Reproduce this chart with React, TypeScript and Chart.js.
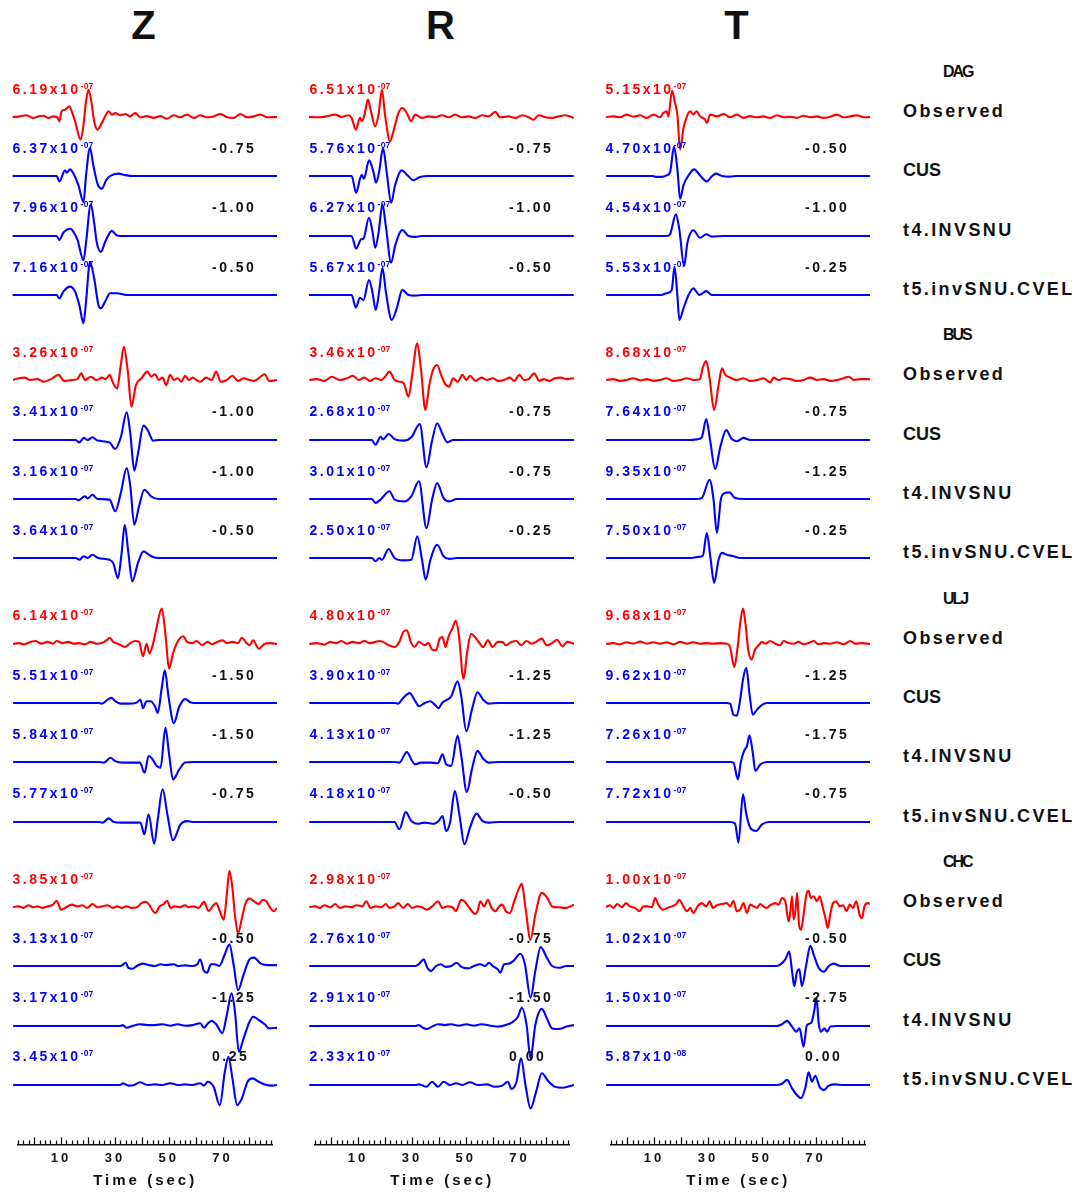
import React, { useEffect, useRef } from 'react';
import { Chart, registerables } from 'chart.js';

Chart.register(...registerables);

// ---------- layout / text data ----------
const COMPONENTS = ['Z', 'R', 'T'];
const STATIONS = ['DAG', 'BUS', 'ULJ', 'CHC'];
const MODELS = ['Observed', 'CUS', 't4.INVSNU', 't5.invSNU.CVEL'];
const AXIS_LABELS = [10, 30, 50, 70];
const AXIS_TITLE = 'Time (sec)';
const T_MIN = -6;
const T_MAX = 88.5;
const TICK_STEP = 2;

// peak amplitudes (Observed, CUS, t4, t5) for each component Z, R, T
const DAG_PEAKS = [[6.19e-7, 6.37e-7, 7.96e-7, 7.16e-7], [6.51e-7, 5.76e-7, 6.27e-7, 5.67e-7], [5.15e-7, 4.70e-7, 4.54e-7, 5.53e-7]];
const BUS_PEAKS = [[3.26e-7, 3.41e-7, 3.16e-7, 3.64e-7], [3.46e-7, 2.68e-7, 3.01e-7, 2.50e-7], [8.68e-7, 7.64e-7, 9.35e-7, 7.50e-7]];
const ULJ_PEAKS = [[6.14e-7, 5.51e-7, 5.84e-7, 5.77e-7], [4.80e-7, 3.90e-7, 4.13e-7, 4.18e-7], [9.68e-7, 9.62e-7, 7.26e-7, 7.72e-7]];
const CHC_PEAKS = [[3.85e-7, 3.13e-7, 3.17e-7, 3.45e-7], [2.98e-7, 2.76e-7, 2.91e-7, 2.33e-7], [1.00e-7, 1.02e-7, 1.50e-7, 5.87e-8]];

// time shifts (CUS, t4, t5) for each component Z, R, T
const DAG_SHIFTS = [[-0.75, -1.0, -0.5], [-0.75, -1.0, -0.5], [-0.5, -1.0, -0.25]];
const BUS_SHIFTS = [[-1.0, -1.0, -0.5], [-0.75, -0.75, -0.25], [-0.75, -1.25, -0.25]];
const ULJ_SHIFTS = [[-1.5, -1.5, -0.75], [-1.25, -1.25, -0.5], [-1.25, -1.75, -0.75]];
const CHC_SHIFTS = [[-0.5, -1.25, 0.25], [-0.75, -1.5, 0.0], [-0.5, -2.75, 0.0]];

// ---------- waveforms: [time (s), normalized amplitude] ----------
const DAG_Z_OBS = [[-5.8,0],[-3.1,.02],[-0.8,.06],[1.6,-.03],[3.4,.02],[5.2,.04],[7,-.03],[8.8,.02],[10,0],[10.9,-.14],[11.7,.19],[12.9,.24],[14.5,.36],[15.3,.19],[16.5,-.14],[18.5,-.76],[19.5,-.26],[20.4,.52],[21.3,.91],[22.1,.63],[23.3,-.14],[24.5,-.42],[25.7,-.26],[27.2,.02],[28.4,.19],[29.6,.08],[30.8,.13],[32.6,.06],[34.4,.1],[36.1,.02],[37.9,.13],[39.7,-.01],[42.1,.03],[44.5,-.03],[46.9,.03],[49.2,-.06],[51.6,.06],[54,-.01],[56.4,.08],[58.8,-.03],[61.1,.06],[63.5,-.01],[65.9,.02],[68.3,.1],[70.7,-.01],[73,-.03],[75.4,.1],[77.8,-.01],[80.2,.02],[82.6,.08],[85,-.01],[88.5,0]];
const DAG_Z_CUS = [[-5.8,0],[9.9,0],[10.9,-.18],[12.9,.19],[13.5,.11],[14.7,.22],[15.9,.08],[17.7,-.31],[19.5,-.87],[20.4,.02],[21.8,.93],[23,.36],[24.5,-.26],[26,-.42],[27.6,-.14],[29,0],[32,.08],[34.4,.03],[37.3,0],[88.5,0]];
const DAG_Z_T4 = [[-5.8,0],[9.9,0],[10.9,-.13],[12.3,.11],[14.9,.24],[16.1,.11],[17.3,-.11],[19.5,-.81],[20.4,-.22],[22.1,1.06],[23.3,.44],[24.2,-.2],[25.7,-.53],[27.2,-.2],[29.6,.17],[31.4,.02],[33.8,0],[88.5,0]];
const DAG_Z_T5 = [[-5.8,0],[9.9,0],[10.9,-.11],[12.3,.11],[14.7,.28],[16.5,.11],[18,-.33],[19.5,-.94],[20.4,-.22],[21.8,1.1],[23.3,.56],[24.8,-.33],[25.7,-.44],[27.2,-.22],[29,.06],[31.4,.06],[34.9,0],[88.5,0]];

const DAG_R_OBS = [[-6,0],[-2.7,-.01],[.3,.02],[3.3,.08],[5.7,0],[8,.06],[9.2,-.03],[10.7,-.42],[12.2,-.03],[12.8,-.14],[13.8,.08],[15,.58],[16.1,.19],[17.6,-.31],[18.8,.08],[20,.91],[21.1,.08],[22.9,-.81],[24.1,-.48],[25.9,.13],[27.3,.3],[28.9,.13],[30.4,-.14],[31.9,.08],[34.2,-.03],[36.6,.02],[39,-.01],[41.4,.06],[43.8,-.01],[46.1,.08],[48.5,-.01],[50.9,.02],[53.3,-.03],[55.7,.06],[58,.02],[60.4,.17],[62.2,-.01],[65.2,.02],[67.6,-.03],[70,.06],[72.3,-.01],[74.1,-.09],[75.9,.06],[78.3,-.01],[80.7,-.03],[83,.02],[85.4,.06],[88.4,-.03]];
const DAG_R_CUS = [[-6,0],[9.2,0],[10.8,-.56],[12.2,-.09],[12.8,.04],[13.6,-.09],[15.4,.52],[17,.13],[17.9,-.22],[19,.13],[20.4,.93],[21.7,.13],[23.3,-.89],[24.7,-.31],[27.1,.19],[28.9,.04],[31.3,-.14],[33.6,-.03],[36.6,0],[88.4,0]];
const DAG_R_T4 = [[-6,0],[9.2,0],[10.8,-.42],[12.6,-.11],[13.4,-.09],[15.4,.61],[16.6,.17],[17.6,-.39],[18.8,.11],[20.2,1.06],[21.4,.33],[23.3,-.89],[24.7,-.33],[27.3,.2],[29.5,0],[31.9,-.03],[34.2,0],[88.4,0]];
const DAG_R_T5 = [[-6,0],[9.2,0],[10.7,-.42],[12.2,-.09],[13.4,-.17],[15.4,.5],[16.6,.11],[17.8,-.5],[19,.11],[20.2,.91],[21.4,.11],[23.5,-.83],[25.3,-.44],[27.3,.17],[29.5,0],[31.9,-.02],[34.5,0],[88.4,0]];

const DAG_T_OBS = [[-5.6,0],[-3,.02],[-.6,-.01],[1.7,.08],[4.1,.01],[6.5,.06],[8.9,-.03],[11.3,.08],[13.6,-.01],[14.8,.13],[16,.19],[16.6,.02],[17.9,.87],[18.9,.5],[19.8,.08],[20.8,-1.09],[22,-.37],[23.2,.02],[24.4,.19],[25.5,.08],[26.7,.19],[27.9,.02],[29.7,-.09],[30.3,-.2],[31.5,.08],[33.9,.02],[36.3,.1],[38.6,-.01],[41,.08],[43.4,-.03],[45.8,.03],[48.2,-.01],[50.5,.02],[52.9,-.03],[55.3,.06],[57.7,-.01],[60.1,.01],[62.4,-.03],[64.8,.04],[67.2,-.01],[69.6,.02],[72,-.03],[74.3,.01],[76.7,.08],[79.1,-.01],[81.5,.02],[83.9,.06],[86.3,-.01],[88.5,0]];
const DAG_T_CUS = [[-5.6,0],[11,0],[12.4,-.03],[14.2,-.03],[16,.02],[17.2,.13],[18.6,.97],[19.8,.24],[20.8,-.76],[22,-.3],[23.8,.02],[25.8,.22],[27.9,.02],[30.3,-.18],[32.1,-.01],[33.6,.08],[35.7,0],[38.6,-.02],[41,0],[88.5,0]];
const DAG_T_T4 = [[-5.6,0],[16,0],[17.2,.06],[19.3,.72],[20.5,.22],[22.2,-1],[23.4,-.22],[25.5,.19],[27.9,-.06],[30.1,.06],[32.1,-.02],[36.3,0],[88.5,0]];
const DAG_T_T5 = [[-5.6,0],[14,0],[16,.06],[17.8,.17],[18.8,.94],[19.8,0],[20.5,-.83],[22,-.44],[23.8,0],[25.5,.22],[27.7,0],[30.1,.13],[32.1,0],[88.5,0]];

const BUS_Z_OBS = [[-5.6,0],[-3.6,.06],[-1.5,.08],[.5,0],[3.2,.03],[5.2,-.06],[7.9,.03],[10.6,.17],[12.6,-.03],[15.3,0],[17.3,.03],[18.7,.22],[20,0],[22.1,.11],[24.1,0],[26.1,.08],[27.4,.03],[28.8,.17],[30.1,-.11],[31.5,-.28],[32.8,.5],[33.9,1.11],[35.3,.28],[36.6,-.89],[38.2,-.17],[40.2,.06],[42.3,.28],[43.6,.11],[45,.19],[46.3,0],[47.7,.08],[49,-.17],[50.4,.17],[51.7,0],[53.1,.06],[54.4,-.06],[55.7,.14],[57.1,0],[58.4,.08],[59.8,0],[61.1,-.06],[63.2,.08],[65.2,0],[66.8,.28],[68.5,-.06],[70.6,0],[72.6,.14],[74.6,-.03],[76.6,.06],[78.7,0],[80.3,-.03],[82,.06],[84.1,.19],[85.7,-.03],[88.5,0]];
const BUS_Z_CUS = [[-5.6,0],[16.7,0],[18,-.08],[19.6,.07],[21,0],[22.7,.09],[24.5,-.02],[28.8,-.08],[30.8,-.3],[32.8,.09],[34.9,.92],[36.2,.2],[37.6,-1.02],[38.9,-.47],[40.9,.48],[42.5,.31],[44.3,-.02],[46.3,0],[88.5,0]];
const BUS_Z_T4 = [[-5.6,0],[16.7,0],[17.7,-.04],[20,.09],[21,.02],[22.7,.14],[24.5,0],[28.8,-.02],[30.8,-.41],[32.8,.2],[34.9,1.03],[36.2,.42],[37.6,-.86],[39.3,-.24],[41.2,.31],[43.6,.09],[46.3,0],[88.5,0]];
const BUS_Z_T5 = [[-5.6,0],[16.7,0],[18,-.06],[19.6,.06],[21,0],[22.7,.11],[24.7,0],[28.8,-.06],[30.1,-.17],[31.8,-.67],[33.1,.17],[34.2,1.1],[35.5,.17],[36.9,-.78],[38.9,-.17],[40.9,.22],[43.6,.06],[46.3,0],[88.5,0]];

const BUS_R_OBS = [[-5.9,0],[-3.2,.03],[-.5,-.03],[2.2,.11],[4.9,0],[7.6,.06],[9.6,.14],[11.7,0],[13.7,.08],[15.7,-.03],[17.7,.06],[19.8,0],[21.1,.11],[22.7,.28],[24.5,0],[26.5,-.06],[27.8,-.11],[29.5,-.56],[30.8,.17],[32.6,1.22],[33.9,.39],[35.5,-1],[36.9,-.17],[38.2,.33],[39.7,.5],[41.1,.17],[42.4,-.11],[44,-.22],[45.4,.06],[47,-.06],[48.7,.17],[50.1,0],[51.4,.14],[53.4,-.03],[55.5,.08],[57.5,0],[59.5,.06],[61.5,-.03],[63.6,0],[65.6,.08],[67.2,-.03],[69,.17],[70.7,0],[72.3,.03],[74.3,.22],[76.1,-.03],[77.7,.03],[79.7,-.03],[81.7,.06],[83.8,.08],[85.8,.03],[88.5,.06]];
const BUS_R_CUS = [[-5.9,0],[16.4,0],[17.7,-.16],[19.5,.11],[20.4,.02],[22.4,.2],[24.5,.03],[27.8,-.02],[30.5,.09],[33.5,.53],[35.9,-.91],[37.9,-.02],[39.7,.56],[41.6,.2],[43.3,-.08],[45.4,0],[88.5,0]];
const BUS_R_T4 = [[-5.9,0],[16.4,0],[17.7,-.13],[19.5,-.02],[22.7,.26],[24.5,-.02],[27.8,-.08],[30.5,.09],[33.2,.59],[35.9,-.97],[37.9,-.02],[39.7,.53],[42,.03],[44,-.08],[46.7,0],[88.5,0]];
const BUS_R_T5 = [[-5.9,0],[16.4,0],[17.7,-.11],[19.1,0],[20,-.06],[22.4,.3],[24.5,0],[27.8,-.08],[30.5,-.06],[32.6,.72],[34.3,-.06],[35.6,-.72],[37.3,-.06],[39.7,.44],[42,.06],[44,-.03],[46.7,0],[88.5,0]];

const BUS_T_OBS = [[-5.6,0],[-3,.03],[-.6,-.03],[1.7,0],[4.1,.06],[6.5,-.01],[8.9,.03],[11.3,-.03],[13.6,0],[16,.06],[18.4,-.03],[20.8,0],[23.2,.06],[25.5,0],[27.9,.03],[28.8,.39],[30.1,.63],[31.3,.06],[32.9,-1],[34.5,-.17],[35.7,.39],[36.9,.17],[38.6,.08],[41,0],[43.4,.06],[45.8,-.03],[48.2,0],[50.5,.06],[52.9,-.08],[54.1,.08],[55.9,0],[57.7,.06],[60.1,.03],[62.4,-.03],[64.8,0],[67.2,.08],[69.6,0],[72,.03],[74.3,-.03],[76.7,0],[79.1,.06],[80.9,.11],[82.7,0],[85.1,.03],[88.5,.03]];
const BUS_T_CUS = [[-5.6,0],[24.4,0],[26.7,.02],[28.5,.09],[30.1,.7],[31.5,-.02],[33.3,-.97],[35.1,-.24],[37.2,.33],[39.2,.03],[41,-.04],[43.4,.07],[45.8,0],[88.5,0]];
const BUS_T_T4 = [[-5.6,0],[26.7,0],[28.5,.03],[31.3,.64],[32.7,-.02],[33.9,-1.13],[35.3,-.02],[36.3,.18],[38.4,.22],[40.4,.03],[43.4,0],[88.5,0]];
const BUS_T_T5 = [[-5.6,0],[25,0],[26.7,.03],[28.9,.08],[30.3,.83],[31.7,-.06],[32.9,-.83],[34.5,-.06],[35.7,.17],[37.4,.11],[39.8,.06],[42.2,0],[88.5,0]];

const ULJ_Z_OBS = [[-5.6,0],[-3.6,.03],[-1.5,-.01],[.5,.07],[2.5,.1],[4.5,.01],[6.6,.07],[8.6,.01],[9.9,.1],[12,.03],[14,.07],[16,.01],[18,.03],[20,-.01],[22.1,.07],[24.1,.01],[26.1,.03],[27.7,.12],[28.8,.21],[30.1,.07],[32.2,-.01],[34.2,-.1],[36.2,.03],[38,.1],[39.3,.07],[40.7,-.41],[42,.01],[43,-.32],[44.3,.01],[45.6,.57],[47.4,1.18],[48.7,.34],[50,-.82],[51.4,-.32],[53,.07],[55.1,.26],[56.4,.07],[58.4,.03],[59.8,.1],[61.8,-.04],[63.8,.07],[65.2,-.01],[67.2,.07],[69.2,.12],[70.6,.03],[72.6,.07],[74.6,.03],[76,.21],[77.3,.07],[78.7,-.04],[80,.12],[82,-.16],[84.1,.01],[86.1,.03],[88.5,0]];
const ULJ_Z_CUS = [[-5.6,0],[24.7,0],[26.1,-.02],[28.1,.11],[29.5,.17],[30.8,.06],[32.8,-.02],[35.5,-.02],[38.2,0],[39.8,.11],[40.7,-.17],[42,.06],[43.4,.06],[45,-.11],[46,-.33],[47.4,.5],[48.5,1.09],[49.8,.22],[51.7,-.67],[53.7,-.11],[55.7,.13],[57.8,.02],[59.8,0],[88.5,0]];
const ULJ_Z_T4 = [[-5.6,0],[24.7,0],[26.8,-.02],[29.1,.14],[30.8,.03],[33.5,-.02],[39.6,-.02],[41.3,-.36],[42.7,.2],[44,.11],[45.6,-.13],[47,-.19],[48.7,1.14],[50.1,.2],[51.4,-.58],[53.7,-.24],[55.7,-.02],[58.4,0],[88.5,0]];
const ULJ_Z_T5 = [[-5.6,0],[24.7,0],[26.4,-.02],[28.5,.12],[30.1,.01],[32.8,-.02],[39.8,-.02],[41.2,-.41],[42.7,.26],[44.7,-.72],[46,.1],[47.7,1.09],[49.5,.2],[51.4,-.61],[54.1,-.08],[56.4,.03],[58.4,0],[88.5,0]];

const ULJ_R_OBS = [[-5.9,0],[-3.2,.03],[-.5,-.02],[1.6,.07],[3.6,.03],[5.6,.1],[7.6,.01],[9.6,.07],[11.7,.03],[13.7,.1],[15.7,.03],[17.7,.07],[19.1,.1],[20.4,.07],[22.4,-.04],[24.5,-.1],[26.2,.07],[27.6,.4],[28.9,.46],[30.3,.07],[31.6,-.1],[33.2,.07],[35.3,-.04],[36.6,.03],[37.9,-.19],[39.3,-.21],[40.6,.18],[41.6,.23],[42.7,-.1],[43.7,.23],[45.1,.51],[46.3,.77],[47.4,.34],[49.1,-1.16],[50.5,-.21],[51.8,.34],[53.2,.23],[54.5,.07],[56.1,-.1],[57.8,.12],[59.5,-.1],[61.3,.07],[62.9,.07],[64.2,-.04],[66.2,.07],[68,.1],[69.6,-.04],[71.6,.1],[73.4,.01],[75,.07],[77,.18],[78.8,-.04],[80.7,.03],[82.4,.14],[84.4,-.08],[86.1,.07],[88.5,.01]];
const ULJ_R_CUS = [[-5.9,0],[24.5,0],[25.8,-.02],[27.6,.17],[29.9,.33],[31.9,.06],[33.2,-.11],[35.3,0],[37.3,.06],[38.9,-.06],[40.2,-.17],[41.6,.02],[43.3,.11],[44.7,.22],[47,.72],[48.3,.22],[50.1,-.94],[52.1,-.22],[54.1,.36],[56.1,.11],[58.2,-.02],[61.5,0],[88.5,0]];
const ULJ_R_T4 = [[-5.9,0],[24.5,0],[26.2,-.02],[28.9,.33],[30.8,.03],[31.9,-.08],[33.9,-.02],[37.3,-.02],[40,-.04],[41.6,.26],[42.9,-.08],[44.7,-.13],[47,.87],[48.3,.2],[50.3,-1],[52.1,-.24],[54.1,.37],[56.1,.11],[58.2,-.02],[61.5,0],[88.5,0]];
const ULJ_R_T5 = [[-5.9,0],[24.5,0],[26.2,-.24],[28.5,.33],[30.5,.03],[32.6,-.06],[35.3,-.02],[38.6,-.06],[40.2,.03],[41.6,.2],[42.9,-.3],[44.3,-.02],[46,1.03],[47.8,.14],[49.4,-.74],[51.4,-.19],[53.7,.28],[55.9,.03],[58.2,-.02],[61.5,0],[88.5,0]];

const ULJ_T_OBS = [[-5.6,0],[-3,.03],[-.6,-.01],[1.7,.06],[4.1,.01],[6.5,.08],[8.9,.01],[11.3,.06],[13.6,.01],[16,.06],[18.4,-.01],[20.8,.07],[23.2,.01],[25.5,.06],[27.9,.01],[30.3,.03],[32.7,.01],[35.1,.03],[37.4,.01],[38.6,-.1],[40.1,-.77],[41.3,-.1],[42.2,.68],[43.2,1.18],[44.1,.68],[45.1,-.21],[46.3,-.52],[47.4,-.21],[48.8,-.04],[50,.07],[51.1,.01],[52.9,.1],[54.7,.01],[56.5,-.04],[57.7,.1],[59.5,.03],[61.3,.01],[63,.07],[64.8,-.01],[66.6,.03],[68.4,.1],[70.2,-.01],[72,.03],[74.3,.01],[76.7,.06],[79.1,-.01],[81.5,.1],[83.3,.01],[85.7,.03],[88.5,0]];
const ULJ_T_CUS = [[-5.6,0],[37.4,0],[38.6,-.02],[39.8,-.39],[41,-.42],[42.2,.11],[43.2,.78],[44.4,1.17],[45.5,.33],[46.7,-.39],[48.2,-.22],[50,-.06],[51.7,0],[88.5,0]];
const ULJ_T_T4 = [[-5.6,0],[38.6,0],[39.8,-.02],[41.4,-.58],[42.4,-.02],[43.6,.37],[44.6,.53],[45.5,.89],[46.7,.31],[47.6,-.3],[49.4,-.08],[51.7,0],[88.5,0]];
const ULJ_T_T5 = [[-5.6,0],[38.6,0],[40.4,-.06],[41.6,-.69],[43.2,.92],[44.4,.26],[45.8,-.19],[47.9,-.3],[50,-.08],[52.3,0],[88.5,0]];

const CHC_Z_OBS = [[-5.6,0],[-3.6,.02],[-1.9,-.03],[-.2,.06],[1.6,-.01],[3.2,.02],[4.8,-.03],[6.6,.02],[8.6,.08],[9.9,.21],[11.5,-.09],[13.3,-.01],[15.3,.08],[17.3,.02],[19.1,.06],[20.7,-.03],[22.7,.1],[24.5,-.01],[26.1,.02],[28.1,.06],[29.9,-.03],[31.5,.02],[33.1,-.03],[34.9,.02],[36.6,-.03],[38.5,-.01],[40.2,.13],[41.6,.17],[42.9,.08],[44.3,-.14],[45.2,-.2],[46.6,.02],[47.9,.08],[49.3,.21],[50.6,-.03],[52,.02],[53.7,-.01],[55.7,.06],[57.1,-.01],[58.7,.02],[60.5,-.03],[62.5,.17],[64.1,-.14],[65.5,.02],[66.8,.13],[68.1,-.14],[69.5,-.42],[70.6,.41],[71.5,1.21],[72.6,.63],[73.5,-.26],[74.6,-.87],[76,-.37],[77.3,.13],[78.7,.28],[80.3,.19],[82,.1],[83.4,.24],[84.7,.19],[86.1,-.03],[87.4,-.14],[88.5,-.03]];
const CHC_Z_CUS = [[-5.6,0],[32.8,0],[34.6,.11],[35.5,-.06],[36.9,-.09],[38.5,0],[40.6,.08],[42.9,.03],[45,0],[47,.06],[49,.03],[51.7,.06],[53.1,0],[55.7,.02],[58.4,0],[60.1,.06],[61.1,.22],[62.5,-.17],[63.6,-.22],[64.9,.06],[66.3,.06],[67.9,0],[69.9,.39],[71.5,.72],[73,.06],[74.6,-.81],[76.6,-.28],[78.7,.22],[80.3,.28],[82.7,.08],[85.4,.03],[88.5,.03]];
const CHC_Z_T4 = [[-5.6,0],[32.6,0],[33.5,.03],[34.9,-.06],[36.9,0],[39.6,.06],[42.3,.03],[45,.03],[47.7,.06],[50.4,.01],[53.1,.06],[55.7,.01],[58.4,.03],[61.1,.09],[62.5,-.06],[63.6,.06],[65.2,.17],[66.8,.06],[69,-.24],[70.6,.37],[72.3,1.09],[73.5,.48],[74.9,-.86],[76.6,-.41],[78.7,.14],[80,.31],[82,.2],[84.1,.06],[85.7,-.08],[88.5,-.06]];
const CHC_Z_T5 = [[-5.6,0],[32.6,0],[33.5,.06],[35.5,-.02],[37.6,0],[39.6,.09],[42.3,0],[45,.02],[47.7,0],[50.4,.06],[53.1,0],[55.7,.02],[58.4,0],[61.1,.06],[62.5,-.02],[63.8,.11],[65.9,-.06],[68.1,-.67],[69.9,.44],[71.2,.94],[72.6,.22],[74.3,-.67],[76,-.44],[78,.11],[79.7,.22],[82,.11],[84.1,.02],[86.7,-.02],[88.5,0]];

const CHC_R_OBS = [[-5.9,0],[-3.8,.02],[-2.1,-.03],[-.5,.06],[1.6,-.01],[3.3,.1],[4.9,-.03],[7,.02],[9,-.01],[11,.06],[13,.02],[14.4,.19],[16,-.03],[17.7,.02],[19.8,-.01],[21.4,.1],[22.7,-.03],[24.5,.02],[25.8,.13],[27.6,-.03],[29.2,.1],[30.8,-.03],[32.6,.02],[34.3,-.01],[35.9,-.09],[37.9,.02],[40,.19],[41.6,-.03],[43.3,.02],[45.1,-.01],[46.4,-.14],[47.4,.08],[48.3,.24],[49.4,.19],[50.8,.02],[52.1,-.14],[53.2,-.23],[54.1,-.14],[55.1,.19],[56.4,.02],[57.8,.24],[59.1,-.03],[60.5,-.14],[61.8,.02],[62.9,.08],[64.2,-.14],[65.6,-.2],[67.2,.19],[68.9,.63],[69.9,.77],[71.2,-.03],[73,-1.09],[74.7,-.26],[77,.47],[79,.3],[80.7,.02],[83.1,-.01],[85.8,-.03],[88.5,.08]];
const CHC_R_CUS = [[-5.9,0],[31.9,0],[33.2,.06],[34.9,.22],[36.2,-.06],[37.5,-.17],[39.3,0],[41,.06],[42.7,-.03],[44.7,0],[46.7,.11],[48.3,-.03],[50.8,-.08],[52.8,0],[55.1,.06],[56.8,0],[58.2,.11],[59.5,0],[61.3,-.11],[62.2,-.22],[63.6,.06],[65.3,.08],[66.9,.17],[69.4,.41],[71,.06],[73,-1.06],[74.7,-.17],[76.6,.63],[78.8,.28],[80.7,0],[83.1,-.06],[85.8,0],[88.5,0]];
const CHC_R_T4 = [[-5.9,0],[31.9,0],[33.2,.03],[34.6,-.06],[35.9,-.1],[37.9,-.02],[40,.06],[42.4,.03],[44.7,.06],[47.4,.01],[50.1,.06],[52.8,.01],[55.5,.06],[58.8,.01],[61.5,-.02],[64.2,.03],[66.7,.14],[68.5,.31],[69.9,.61],[71.6,.03],[73,-1.08],[74.7,.03],[77,.57],[78.8,.26],[80.7,-.08],[83.1,-.1],[85.8,-.02],[88.5,.03]];
const CHC_R_T5 = [[-5.9,0],[31.9,0],[33.2,.02],[34.6,-.02],[35.9,-.06],[37.9,.11],[40,-.06],[42,.11],[44.3,0],[46.4,.06],[48.7,0],[51.4,.09],[54.1,0],[57.5,.02],[60.2,-.06],[62.9,-.02],[64.9,.11],[66.2,-.13],[68,.11],[69.6,.89],[71.2,0],[73,-.78],[75,-.22],[77,.39],[79.3,.13],[81.7,-.06],[84.4,-.09],[88.5,0]];

const CHC_T_OBS = [[-5.6,0],[-4.2,.06],[-3,-.03],[-1.6,.1],[0,-.01],[1.5,.13],[2.9,.02],[4.7,-.03],[6.3,-.14],[7.7,.02],[9.1,.02],[10.7,-.01],[11.9,.3],[13,.08],[14.6,-.09],[16.3,-.03],[17.8,.02],[19.4,.1],[20.5,.24],[21.7,.06],[23.2,-.14],[24.4,-.03],[25.5,-.2],[27,.02],[28.5,.13],[30.1,.02],[31.3,.19],[32.5,-.03],[33.9,.06],[35.7,.1],[37.4,.13],[38.6,.02],[39.8,.21],[41,-.14],[42.2,-.09],[43.4,.13],[44.6,-.2],[45.8,.08],[47,.02],[48.2,-.03],[49.3,.1],[50.5,.02],[51.7,-.03],[52.9,.06],[54.7,.13],[55.9,.08],[57.1,.3],[58.3,.19],[59.5,-.48],[60.1,-.14],[60.7,.36],[61.3,-.42],[61.9,-.14],[62.5,.47],[63.2,-.59],[63.9,-.76],[64.8,-.26],[65.8,.41],[66.6,.54],[67.4,.3],[68.4,.36],[69.6,.19],[70.5,.36],[71.7,-.03],[72.6,-.37],[73.4,-.7],[74.3,-.26],[75.3,.13],[76.5,.19],[77.7,.02],[78.9,.06],[80.1,-.14],[81.3,.08],[82.4,-.03],[83.6,.19],[84.8,-.26],[85.7,-.37],[86.5,.02],[87.7,.13],[88.5,.1]];
const CHC_T_CUS = [[-5.6,0],[55.3,0],[56.7,.06],[58.3,.22],[59.7,.48],[60.7,-.17],[61.5,-.67],[62.4,-.22],[63.3,-.11],[64.2,-.67],[65.8,.06],[67.2,.67],[68.6,.33],[70.2,-.06],[72,-.19],[73.8,0],[75.5,.08],[77.9,0],[88.5,0]];
const CHC_T_T4 = [[-5.6,0],[55.3,0],[57.1,.06],[58.9,.17],[60.7,-.02],[62.2,-.19],[63.4,-.08],[64.8,-.69],[66,.03],[67.5,.1],[68.6,.5],[69.4,.94],[70.2,.1],[71,-.19],[72.2,-.08],[73.2,-.19],[74.4,-.02],[76.7,0],[88.5,0]];
const CHC_T_T5 = [[-5.6,0],[55.3,0],[57.1,.04],[58.9,.17],[60.7,-.11],[62.4,-.33],[63.9,-.44],[65.4,-.11],[66.6,.42],[67.8,.11],[69,.31],[70.5,-.06],[72,-.17],[73.8,-.02],[76.1,.02],[79.1,0],[88.5,0]];

// tables built from the named arrays: [station][component][model]
const WAVES = [
  [[DAG_Z_OBS, DAG_Z_CUS, DAG_Z_T4, DAG_Z_T5], [DAG_R_OBS, DAG_R_CUS, DAG_R_T4, DAG_R_T5], [DAG_T_OBS, DAG_T_CUS, DAG_T_T4, DAG_T_T5]],
  [[BUS_Z_OBS, BUS_Z_CUS, BUS_Z_T4, BUS_Z_T5], [BUS_R_OBS, BUS_R_CUS, BUS_R_T4, BUS_R_T5], [BUS_T_OBS, BUS_T_CUS, BUS_T_T4, BUS_T_T5]],
  [[ULJ_Z_OBS, ULJ_Z_CUS, ULJ_Z_T4, ULJ_Z_T5], [ULJ_R_OBS, ULJ_R_CUS, ULJ_R_T4, ULJ_R_T5], [ULJ_T_OBS, ULJ_T_CUS, ULJ_T_T4, ULJ_T_T5]],
  [[CHC_Z_OBS, CHC_Z_CUS, CHC_Z_T4, CHC_Z_T5], [CHC_R_OBS, CHC_R_CUS, CHC_R_T4, CHC_R_T5], [CHC_T_OBS, CHC_T_CUS, CHC_T_T4, CHC_T_T5]],
];
const PEAKS = [DAG_PEAKS, BUS_PEAKS, ULJ_PEAKS, CHC_PEAKS];
const SHIFTS = [DAG_SHIFTS, BUS_SHIFTS, ULJ_SHIFTS, CHC_SHIFTS];

// ---------- geometry & style ----------
const FONT = '"Liberation Sans", Arial, Helvetica, sans-serif';
const RED = 'rgb(255,0,0)';
const BLUE = 'rgb(0,0,255)';
const INK = '#111';
const COL_LEFT = [12, 309, 605];
const PLOT_W = 265;
const TRACE_H = 90;
const AMP_RANGE = 1.5;
const ROW0 = 117;
const STATION_STEP = 263.3;
const ROW_STEP = 59.3;
const RIGHT_X = 903;
const STATION_X = 943;
const AXIS_H = 130;
const AXIS_TOP = 1192 - AXIS_H;

const baseline = (s: number, m: number) => ROW0 + s * STATION_STEP + m * ROW_STEP;

function fmtPeak(v: number) {
  const [m, e] = v.toExponential(2).split('e');
  const n = parseInt(e, 10);
  const exp = (n < 0 ? '-' : '+') + String(Math.abs(n)).padStart(2, '0');
  return { m, exp };
}

function Trace({ pts, color, left, top }: any) {
  const ref = useRef<HTMLCanvasElement>(null);
  useEffect(() => {
    const chart = new Chart(ref.current as HTMLCanvasElement, {
      type: 'line',
      data: {
        datasets: [{
          data: pts.map((p: number[]) => ({ x: p[0], y: p[1] })),
          borderColor: color,
          borderWidth: 2.1,
          pointRadius: 0,
          fill: false,
          cubicInterpolationMode: 'monotone',
          clip: false,
        } as any],
      },
      options: {
        animation: false,
        responsive: false,
        maintainAspectRatio: false,
        events: [],
        layout: { padding: 0 },
        plugins: { legend: { display: false }, tooltip: { enabled: false } },
        scales: {
          x: { type: 'linear', min: T_MIN, max: T_MAX, display: false },
          y: { type: 'linear', min: -AMP_RANGE, max: AMP_RANGE, display: false },
        },
      } as any,
    });
    return () => chart.destroy();
  }, [pts, color]);
  return (
    <canvas ref={ref} width={PLOT_W} height={TRACE_H}
      style={{ position: 'absolute', left, top, width: PLOT_W, height: TRACE_H }} />
  );
}

const spacingPlugin = {
  id: 'letterSpacing',
  beforeDraw(chart: any) {
    chart.ctx.letterSpacing = '3px';
  },
};

const tickMarksPlugin = {
  id: 'tickMarks',
  afterDraw(chart: any) {
    const s = chart.scales.x;
    const ctx = chart.ctx;
    ctx.save();
    ctx.strokeStyle = INK;
    ctx.lineWidth = 1.3;
    s.ticks.forEach((t: any) => {
      const x = Math.round(s.getPixelForValue(t.value)) + 0.5;
      const len = t.value % 10 === 0 ? 7 : 4;
      ctx.beginPath();
      ctx.moveTo(x, s.top);
      ctx.lineTo(x, s.top - len);
      ctx.stroke();
    });
    ctx.restore();
  },
};

function TimeAxis({ left }: any) {
  const ref = useRef<HTMLCanvasElement>(null);
  useEffect(() => {
    const chart = new Chart(ref.current as HTMLCanvasElement, {
      type: 'line',
      data: { datasets: [{ data: [] }] },
      options: {
        animation: false,
        responsive: false,
        maintainAspectRatio: false,
        events: [],
        layout: { padding: 0 },
        plugins: { legend: { display: false }, tooltip: { enabled: false } },
        scales: {
          x: {
            type: 'linear', min: T_MIN, max: T_MAX, position: 'bottom',
            grid: { display: false, drawTicks: false },
            border: { display: true, color: INK, width: 1.5 },
            ticks: {
              stepSize: TICK_STEP, autoSkip: false, maxRotation: 0, includeBounds: false,
              padding: 6, color: INK,
              font: { family: FONT, size: 13, weight: 'bold' },
              callback: (v: number) => (AXIS_LABELS.includes(v) ? String(v) : ''),
            },
            title: {
              display: true, text: AXIS_TITLE, color: INK,
              font: { family: FONT, size: 15, weight: 'bold' },
              padding: { top: 0, bottom: 2 },
            },
          },
          y: { display: false, min: 0, max: 1 },
        },
      } as any,
      plugins: [spacingPlugin, tickMarksPlugin],
    });
    return () => chart.destroy();
  }, []);
  return (
    <canvas ref={ref} width={PLOT_W} height={AXIS_H}
      style={{ position: 'absolute', left, top: AXIS_TOP, width: PLOT_W, height: AXIS_H }} />
  );
}

function Txt({ x, yc, size, color = INK, spacing = 0, align = 'left', width, children }: any) {
  const style: any = {
    position: 'absolute',
    top: yc - 0.489 * size,
    fontFamily: FONT,
    fontWeight: 'bold',
    fontSize: size,
    lineHeight: `${size}px`,
    letterSpacing: spacing,
    color,
    whiteSpace: 'nowrap',
  };
  if (align === 'center') {
    style.left = x - width / 2;
    style.width = width;
    style.textAlign = 'center';
  } else {
    style.left = x;
  }
  return <div style={style}>{children}</div>;
}

export default function App() {
  const items: any[] = [];
  STATIONS.forEach((st, s) => {
    items.push(
      <Txt key={`st-${s}`} x={STATION_X} yc={baseline(s, 0) - 45} size={16} spacing={-2}>{st}</Txt>
    );
    MODELS.forEach((md, m) => {
      items.push(
        <Txt key={`md-${s}-${m}`} x={RIGHT_X} yc={baseline(s, m) - 6} size={18}
          spacing={md === 'CUS' ? 0 : 2.4}>{md}</Txt>
      );
    });
    COMPONENTS.forEach((_, c) => {
      const left = COL_LEFT[c];
      MODELS.forEach((__, m) => {
        const b = baseline(s, m);
        const color = m === 0 ? RED : BLUE;
        items.push(
          <Trace key={`tr-${s}-${c}-${m}`} pts={WAVES[s][c][m]} color={color}
            left={left} top={b - TRACE_H / 2} />
        );
        const pk = fmtPeak(PEAKS[s][c][m]);
        items.push(
          <Txt key={`pk-${s}-${c}-${m}`} x={left + 0.5} yc={b - 28.5} size={14} color={color} spacing={2.5}>
            {pk.m}x10
            <span style={{ fontSize: 8.5, letterSpacing: 0.2, position: 'relative', top: -5 }}>{pk.exp}</span>
          </Txt>
        );
        if (m > 0) {
          items.push(
            <Txt key={`sh-${s}-${c}-${m}`} x={left + 200} yc={b - 28.5} size={14} spacing={2.5}>
              {SHIFTS[s][c][m - 1].toFixed(2)}
            </Txt>
          );
        }
      });
    });
  });

  return (
    <div style={{ position: 'absolute', left: 0, top: 0, width: 1090, height: 1192, background: '#fff', overflow: 'hidden' }}>
      {COMPONENTS.map((cp, c) => (
        <Txt key={`hd-${c}`} x={COL_LEFT[c] + PLOT_W / 2 - 1} yc={24.5} size={40} align="center" width={100}>{cp}</Txt>
      ))}
      {COMPONENTS.map((_, c) => (
        <TimeAxis key={`ax-${c}`} left={COL_LEFT[c]} />
      ))}
      {items}
    </div>
  );
}
